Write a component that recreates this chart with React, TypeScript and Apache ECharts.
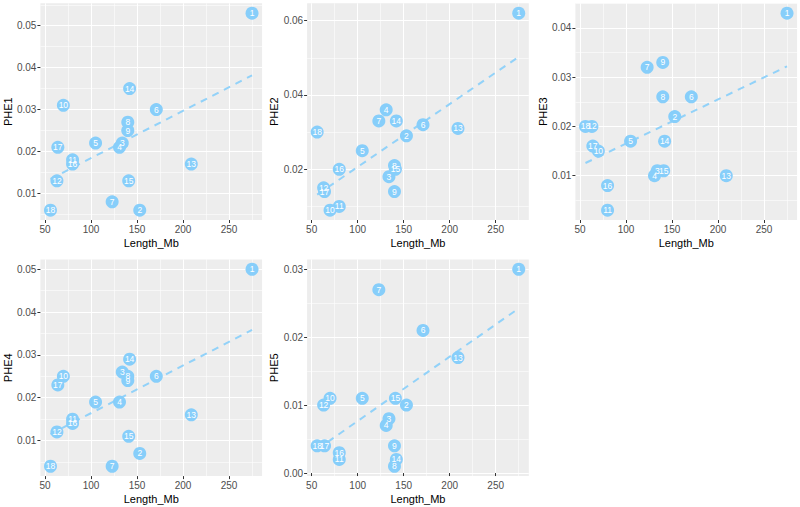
import React, { useEffect, useRef } from "react";
import * as echarts from "echarts";

// ---- data ----
const chromosomes = [1, 2, 3, 4, 5, 6, 7, 8, 9, 10, 11, 12, 13, 14, 15, 16, 17, 18];
const lengthMb = [275, 153, 134, 131, 105, 171, 123, 140, 140, 70, 80, 63, 209, 142, 141, 80, 64, 56];
const phe1 = [0.053, 0.006, 0.022, 0.021, 0.022, 0.030, 0.008, 0.027, 0.025, 0.031, 0.018, 0.013, 0.017, 0.035, 0.013, 0.017, 0.021, 0.006];
const phe2 = [0.062, 0.029, 0.018, 0.036, 0.025, 0.032, 0.033, 0.021, 0.014, 0.009, 0.010, 0.015, 0.031, 0.033, 0.020, 0.020, 0.014, 0.030];
const phe3 = [0.043, 0.022, 0.011, 0.010, 0.017, 0.026, 0.032, 0.026, 0.033, 0.015, 0.003, 0.020, 0.010, 0.017, 0.011, 0.008, 0.016, 0.020];
const phe4 = [0.050, 0.007, 0.026, 0.019, 0.019, 0.025, 0.004, 0.025, 0.024, 0.025, 0.015, 0.012, 0.016, 0.029, 0.011, 0.014, 0.023, 0.004];
const phe5 = [0.030, 0.010, 0.008, 0.007, 0.011, 0.021, 0.027, 0.001, 0.004, 0.011, 0.002, 0.010, 0.017, 0.002, 0.011, 0.003, 0.004, 0.004];

const panelNames = ["PHE1", "PHE2", "PHE3", "PHE4", "PHE5"];
const panelValues = [phe1, phe2, phe3, phe4, phe5];

const xTicks = [50, 100, 150, 200, 250];
const xMinorTicks = [75, 125, 175, 225, 275];
const yTicks1 = [0.01, 0.02, 0.03, 0.04, 0.05];
const yTicks2 = [0.02, 0.04, 0.06];
const yTicks3 = [0.01, 0.02, 0.03, 0.04];
const yTicks4 = [0.01, 0.02, 0.03, 0.04, 0.05];
const yTicks5 = [0.0, 0.01, 0.02, 0.03];
const yMinor1 = [0.005, 0.015, 0.025, 0.035, 0.045, 0.055];
const yMinor2 = [0.01, 0.03, 0.05];
const yMinor3 = [0.005, 0.015, 0.025, 0.035, 0.045];
const yMinor4 = [0.005, 0.015, 0.025, 0.035, 0.045];
const yMinor5 = [0.005, 0.015, 0.025];
const yTicksAll = [yTicks1, yTicks2, yTicks3, yTicks4, yTicks5];
const yMinorAll = [yMinor1, yMinor2, yMinor3, yMinor4, yMinor5];

// ---- layout ----
const colLefts = [40.4, 307.1, 575.4];
const rowTops = [3.3, 259.4];
const panelW = 221.7;
const panelH = 216.7;
const pointColor = "#87CEFA";
const FONT = "'Liberation Sans', Arial, sans-serif";

function expand(vals: number[]) {
  const mn = Math.min(...vals);
  const mx = Math.max(...vals);
  const r = mx - mn;
  return [mn - 0.05 * r, mx + 0.05 * r];
}

function regression(xs: number[], ys: number[]) {
  const n = xs.length;
  const mx = xs.reduce((a, b) => a + b, 0) / n;
  const my = ys.reduce((a, b) => a + b, 0) / n;
  let sxy = 0;
  let sxx = 0;
  for (let i = 0; i < n; i++) {
    sxy += (xs[i] - mx) * (ys[i] - my);
    sxx += (xs[i] - mx) * (xs[i] - mx);
  }
  const b = sxy / sxx;
  const a = my - b * mx;
  return { a, b };
}

function buildOption() {
  const grids: any[] = [];
  const xAxes: any[] = [];
  const yAxes: any[] = [];
  const series: any[] = [];
  const [xmin, xmax] = expand(lengthMb);

  panelNames.forEach((name, i) => {
    const col = i % 3;
    const row = Math.floor(i / 3);
    grids.push({
      left: colLefts[col],
      top: rowTops[row],
      width: panelW,
      height: panelH,
      show: true,
      backgroundColor: "#EDEDED",
      borderWidth: 0,
    });
    const ys = panelValues[i];
    const [ymin, ymax] = expand(ys);
    xAxes.push({
      type: "value",
      gridIndex: i,
      min: xmin,
      max: xmax,
      name: "Length_Mb",
      nameLocation: "middle",
      nameGap: 17,
      nameTextStyle: { color: "#000", fontSize: 11, fontFamily: FONT },
      axisLine: { show: false },
      axisTick: { show: true, length: 3, customValues: xTicks, lineStyle: { color: "#333", width: 1 } },
      axisLabel: { show: true, customValues: xTicks, margin: 4, color: "#4D4D4D", fontSize: 10, fontFamily: FONT },
      splitLine: { show: true, lineStyle: { color: "#FFFFFF", width: 1.1 } },
      z: 2,
    });
    yAxes.push({
      type: "value",
      gridIndex: i,
      min: ymin,
      max: ymax,
      name,
      nameLocation: "middle",
      nameGap: 26,
      nameRotate: 90,
      nameTextStyle: { color: "#000", fontSize: 11, fontFamily: FONT },
      axisLine: { show: false },
      axisTick: { show: true, length: 3, customValues: yTicksAll[i], lineStyle: { color: "#333", width: 1 } },
      axisLabel: {
        show: true,
        customValues: yTicksAll[i],
        margin: 4,
        color: "#4D4D4D",
        fontSize: 10,
        fontFamily: FONT,
        formatter: (v: number) => v.toFixed(2),
      },
      splitLine: { show: true, lineStyle: { color: "#FFFFFF", width: 1.1 } },
      z: 2,
    });
  });

  // minor grid axes
  panelNames.forEach((_, i) => {
    const ys = panelValues[i];
    const [ymin, ymax] = expand(ys);
    xAxes.push({
      type: "value",
      gridIndex: i,
      min: xmin,
      max: xmax,
      axisLine: { show: false },
      axisTick: { show: false, customValues: xMinorTicks },
      axisLabel: { show: false, customValues: xMinorTicks },
      splitLine: { show: true, lineStyle: { color: "#FFFFFF", width: 0.55 } },
      z: 1,
    });
    yAxes.push({
      type: "value",
      gridIndex: i,
      min: ymin,
      max: ymax,
      axisLine: { show: false },
      axisTick: { show: false, customValues: yMinorAll[i] },
      axisLabel: { show: false, customValues: yMinorAll[i] },
      splitLine: { show: true, lineStyle: { color: "#FFFFFF", width: 0.55 } },
      z: 1,
    });
  });

  panelNames.forEach((name, i) => {
    const ys = panelValues[i];
    const { a, b } = regression(lengthMb, ys);
    const lx0 = Math.min(...lengthMb);
    const lx1 = Math.max(...lengthMb);
    series.push({
      type: "line",
      name: name + " fit",
      xAxisIndex: i,
      yAxisIndex: i,
      data: [
        [lx0, a + b * lx0],
        [lx1, a + b * lx1],
      ],
      symbol: "none",
      silent: true,
      lineStyle: { color: pointColor, width: 2, type: [7, 6], opacity: 0.9 },
      z: 3,
    });
    series.push({
      type: "scatter",
      name,
      xAxisIndex: i,
      yAxisIndex: i,
      symbolSize: 13,
      itemStyle: { color: pointColor, opacity: 1 },
      label: {
        show: true,
        position: "inside",
        formatter: (p: any) => String(p.value[2]),
        color: "#FFFFFF",
        fontSize: 8.5,
        fontFamily: FONT,
      },
      labelLayout: { hideOverlap: false },
      data: chromosomes.map((c, k) => [lengthMb[k], ys[k], c]),
      z: 4,
    });
  });

  return {
    animation: false,
    backgroundColor: "#FFFFFF",
    grid: grids,
    xAxis: xAxes,
    yAxis: yAxes,
    series,
  };
}

export default function App() {
  const ref = useRef<HTMLDivElement>(null);
  useEffect(() => {
    if (!ref.current) return;
    const chart = echarts.init(ref.current, undefined, { renderer: "svg" });
    chart.setOption(buildOption() as any);
    return () => chart.dispose();
  }, []);
  return (
    <div
      ref={ref}
      style={{ position: "fixed", left: 0, top: 0, width: 800, height: 507, background: "#fff" }}
    />
  );
}
